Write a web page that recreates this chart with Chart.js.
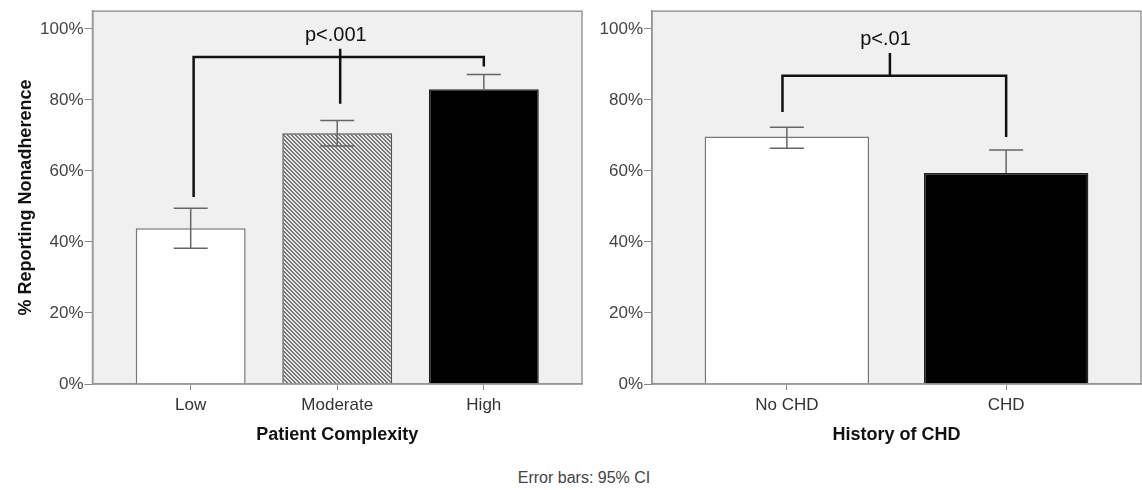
<!DOCTYPE html>
<html>
<head>
<meta charset="utf-8">
<script src="https://cdn.jsdelivr.net/npm/chart.js@4.4.1/dist/chart.umd.min.js"></script>
<style>
  body { margin: 0; background: #fff; }
  #wrap { position: relative; width: 1142px; height: 490px; overflow: hidden; }
  #c1 { position: absolute; left: 0; top: 0; }
  #c2 { position: absolute; left: 595px; top: 0; }
  #note { position: absolute; left: 484px; top: 468px; width: 200px; text-align: center;
          font: 16px 'Liberation Sans', Arial, sans-serif; color: #444; line-height: 20px; }
</style>
</head>
<body>
<div id="wrap">
  <canvas id="c1" width="600" height="450"></canvas>
  <canvas id="c2" width="547" height="450"></canvas>
  <div id="note">Error bars: 95% CI</div>
</div>
<script>
// % reporting nonadherence with 95% CI
const complexityLabels = ['Low', 'Moderate', 'High'];
const complexityPct = [43.9, 70.6, 83.0];
const complexityCiLow = [38.2, 67.0, 78.8];
const complexityCiHigh = [49.5, 74.2, 87.2];

const chdLabels = ['No CHD', 'CHD'];
const chdPct = [69.7, 59.4];
const chdCiLow = [66.4, 52.9];
const chdCiHigh = [72.3, 65.9];

const yTicks = [0, 20, 40, 60, 80, 100];

// significance brackets in axis units: [category position, %]
const complexityBracket = [[1.02, 52.7], [1.02, 92.1], [3.0, 92.1], [3.0, 89.4]];
const complexityStem = [[2.02, 94.4], [2.02, 78.9]];
const complexityP = { text: 'p<.001', x: 1.99, y: 98.3 };

const chdBracket = [[0.98, 76.6], [0.98, 86.8], [2.0, 86.8], [2.0, 69.6]];
const chdStem = [[1.47, 93.2], [1.47, 86.8]];
const chdP = { text: 'p<.01', x: 1.45, y: 96.9 };

const FONT = "'Liberation Sans', Arial, sans-serif";

function hatch() {
  const c = document.createElement('canvas');
  c.width = 4; c.height = 4;
  const g = c.getContext('2d');
  g.fillStyle = '#e8e8e8';
  g.fillRect(0, 0, 4, 4);
  g.fillStyle = '#777';
  for (let i = 0; i < 4; i++) {
    g.fillRect(i, i, 1, 1);
    g.fillRect((i + 1) % 4, i, 1, 1);
  }
  return g.createPattern(c, 'repeat');
}

const panelFrame = {
  id: 'panelFrame',
  beforeDraw(chart) {
    const { ctx, chartArea: a } = chart;
    ctx.save();
    ctx.fillStyle = '#f0f0f0';
    ctx.fillRect(a.left, a.top, a.width, a.height);
    ctx.restore();
  },
  afterDraw(chart) {
    const { ctx, chartArea: a } = chart;
    ctx.save();
    ctx.strokeStyle = '#999';
    ctx.lineWidth = 1.5;
    ctx.strokeRect(a.left, a.top, a.width, a.height);
    ctx.restore();
  }
};

const errorBars = {
  id: 'errorBars',
  afterDatasetsDraw(chart) {
    const ds = chart.data.datasets[0];
    const meta = chart.getDatasetMeta(0);
    const y = chart.scales.y, a = chart.chartArea, ctx = chart.ctx;
    meta.data.forEach((bar, i) => {
      const top = y.getPixelForValue(ds.ciHigh[i]);
      const bot = y.getPixelForValue(ds.ciLow[i]);
      ctx.save();
      // the lower half disappears inside the black bars
      if (ds.backgroundColor[i] === '#000') {
        ctx.beginPath();
        ctx.rect(a.left, a.top, a.width, bar.y - a.top);
        ctx.clip();
      }
      ctx.strokeStyle = '#666';
      ctx.lineWidth = 1.5;
      ctx.beginPath();
      ctx.moveTo(bar.x, top); ctx.lineTo(bar.x, bot);
      ctx.moveTo(bar.x - 17, top); ctx.lineTo(bar.x + 17, top);
      ctx.moveTo(bar.x - 17, bot); ctx.lineTo(bar.x + 17, bot);
      ctx.stroke();
      ctx.restore();
    });
  }
};

const pLabel = {
  id: 'pLabel',
  afterDatasetsDraw(chart, args, opts) {
    if (!opts.text) return;
    const { ctx, scales } = chart;
    ctx.save();
    ctx.font = '20px ' + FONT;
    ctx.fillStyle = '#111';
    ctx.textAlign = 'center';
    ctx.textBaseline = 'middle';
    ctx.fillText(opts.text, scales.x.getPixelForValue(opts.x), scales.y.getPixelForValue(opts.y));
    ctx.restore();
  }
};

const toXY = pts => pts.map(([x, y]) => ({ x, y }));

function panel(id, p) {
  return new Chart(document.getElementById(id), {
    type: 'bar',
    data: {
      datasets: [{
        type: 'bar',
        data: p.pct.map((v, i) => ({ x: i + 1, y: v })),
        ciLow: p.ciLow,
        ciHigh: p.ciHigh,
        backgroundColor: p.fills,
        borderColor: p.borders,
        borderWidth: 1.5,
        barPercentage: 0.75,
        categoryPercentage: 1
      }, {
        type: 'line',
        data: toXY(p.bracket),
        borderColor: '#111',
        borderWidth: 2.5,
        pointRadius: 0,
        fill: false
      }, {
        type: 'line',
        data: toXY(p.stem),
        borderColor: '#111',
        borderWidth: 2.5,
        pointRadius: 0,
        fill: false
      }]
    },
    options: {
      responsive: false,
      animation: false,
      devicePixelRatio: 1,
      events: [],
      layout: { padding: { left: 0, right: p.padRight, top: 10, bottom: 0 } },
      plugins: {
        legend: { display: false },
        tooltip: { enabled: false },
        pLabel: p.note
      },
      scales: {
        x: {
          type: 'linear',
          min: p.xMin,
          max: p.xMax,
          offset: false,
          afterBuildTicks: s => { s.ticks = p.labels.map((_, i) => ({ value: i + 1 })); },
          afterFit: s => { s.height = 66; },
          ticks: {
            callback: v => p.labels[v - 1],
            color: '#333',
            font: { family: FONT, size: 17 },
            padding: 5,
            autoSkip: false,
            maxRotation: 0
          },
          grid: { offset: false, drawOnChartArea: false, tickLength: 6, color: '#888' },
          border: { display: true, color: '#888', width: 1.5 },
          title: {
            display: true,
            text: p.xTitle,
            color: '#111',
            font: { family: FONT, size: 18, weight: 'bold' },
            padding: { top: 0, bottom: 4 }
          }
        },
        y: {
          min: 0,
          max: 105,
          afterBuildTicks: s => { s.ticks = yTicks.map(v => ({ value: v })); },
          afterFit: s => { s.width = p.yWidth; },
          ticks: {
            callback: v => v + '%',
            color: '#444',
            font: { family: FONT, size: 17 },
            padding: 1
          },
          grid: { drawOnChartArea: false, tickLength: 8, color: '#888' },
          border: { display: true, color: '#888', width: 1.5 },
          title: {
            display: !!p.yTitle,
            text: p.yTitle || '',
            color: '#111',
            font: { family: FONT, size: 18, weight: 'bold' },
            padding: { top: 15, bottom: 0 }
          }
        }
      }
    },
    plugins: [panelFrame, errorBars, pLabel]
  });
}

panel('c1', {
  labels: complexityLabels,
  pct: complexityPct,
  ciLow: complexityCiLow,
  ciHigh: complexityCiHigh,
  fills: ['#fff', hatch(), '#000'],
  borders: ['#777', '#555', '#222'],
  bracket: complexityBracket,
  stem: complexityStem,
  note: complexityP,
  xTitle: 'Patient Complexity',
  yTitle: '% Reporting Nonadherence',
  xMin: 0.33, xMax: 3.67,
  yWidth: 92.5,
  padRight: 18
});

panel('c2', {
  labels: chdLabels,
  pct: chdPct,
  ciLow: chdCiLow,
  ciHigh: chdCiHigh,
  fills: ['#fff', '#000'],
  borders: ['#777', '#222'],
  bracket: chdBracket,
  stem: chdStem,
  note: chdP,
  xTitle: 'History of CHD',
  yTitle: null,
  xMin: 0.385, xMax: 2.615,
  yWidth: 57,
  padRight: 1
});
</script>
</body>
</html>
